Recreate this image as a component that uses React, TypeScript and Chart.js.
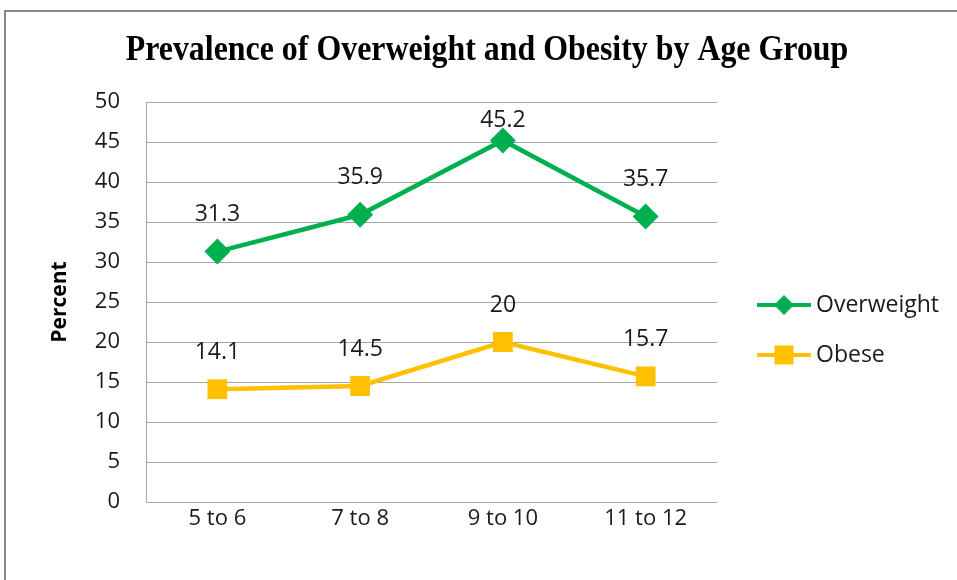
import React, { useEffect, useRef } from "react";
import { Chart, registerables } from "chart.js";

Chart.register(...registerables);

const categories = ["5 to 6", "7 to 8", "9 to 10", "11 to 12"];
const overweight = [31.3, 35.9, 45.2, 35.7];
const obese = [14.1, 14.5, 20, 15.7];
const seriesNames = ["Overweight", "Obese"];
const titleText = "Prevalence of Overweight and Obesity by Age Group";
const yTitle = "Percent";

const GREEN = "#00B050";
const GOLD = "#FFC000";
const TICK_FONT = "'Open Sans', sans-serif";

function drawMarker(ctx: CanvasRenderingContext2D, style: string, x: number, y: number, color: string) {
  ctx.save();
  ctx.fillStyle = color;
  ctx.beginPath();
  if (style === "rectRot") {
    const r = 10;
    ctx.moveTo(x, y - r);
    ctx.lineTo(x + r, y);
    ctx.lineTo(x, y + r);
    ctx.lineTo(x - r, y);
    ctx.closePath();
  } else {
    const h = 9.5;
    ctx.rect(x - h, y - h, 2 * h, 2 * h);
  }
  ctx.fill();
  ctx.restore();
}

const framePlugin = {
  id: "frame",
  beforeDraw(chart: any) {
    const ctx = chart.ctx;
    ctx.save();
    ctx.fillStyle = "#ffffff";
    ctx.fillRect(0, 0, chart.width, chart.height);
    ctx.strokeStyle = "#878787";
    ctx.lineWidth = 2;
    ctx.strokeRect(5, 11, chart.width + 20, chart.height + 20);
    ctx.restore();
  },
};

const titlePlugin = {
  id: "customTitle",
  afterDraw(chart: any) {
    const ctx = chart.ctx;
    ctx.save();
    ctx.font = "bold 36px 'Liberation Serif', serif";
    ctx.fillStyle = "#000";
    ctx.textAlign = "center";
    ctx.textBaseline = "middle";
    ctx.translate(487, 51);
    ctx.scale(0.886, 1);
    ctx.fillText(titleText, 0, 0);
    ctx.restore();

    // y axis title
    ctx.save();
    ctx.font = "bold 21px " + TICK_FONT;
    ctx.fillStyle = "#000";
    ctx.textAlign = "center";
    ctx.textBaseline = "middle";
    ctx.translate(60, (chart.chartArea.top + chart.chartArea.bottom) / 2);
    ctx.rotate(-Math.PI / 2);
    ctx.fillText(yTitle, 0, 0);
    ctx.restore();
  },
};

const labelPlugin = {
  id: "dataLabels",
  afterDatasetsDraw(chart: any) {
    const ctx = chart.ctx;
    const top = chart.chartArea.top;
    ctx.save();
    ctx.font = "23px " + TICK_FONT;
    ctx.fillStyle = "#1a1a1a";
    ctx.textAlign = "center";
    ctx.textBaseline = "middle";
    chart.data.datasets.forEach((ds: any, i: number) => {
      const meta = chart.getDatasetMeta(i);
      meta.data.forEach((pt: any, j: number) => {
        const y = Math.max(pt.y - 37, top + 18);
        ctx.fillText(String(ds.data[j]), pt.x, y);
      });
    });
    ctx.restore();
  },
};

const legendPlugin = {
  id: "customLegend",
  afterDraw(chart: any) {
    const ctx = chart.ctx;
    const area = chart.chartArea;
    const x0 = area.right + 40;
    const y0 = area.top + 203;
    chart.data.datasets.forEach((ds: any, i: number) => {
      const y = y0 + i * 50;
      ctx.save();
      ctx.strokeStyle = ds.borderColor;
      ctx.lineWidth = 4;
      ctx.beginPath();
      ctx.moveTo(x0, y);
      ctx.lineTo(x0 + 54, y);
      ctx.stroke();
      ctx.restore();
      drawMarker(ctx, ds.pointStyle, x0 + 27, y, ds.borderColor);
      ctx.save();
      ctx.font = "23px " + TICK_FONT;
      ctx.fillStyle = "#1a1a1a";
      ctx.textAlign = "left";
      ctx.textBaseline = "middle";
      ctx.fillText(ds.label, x0 + 59, y);
      ctx.restore();
    });
  },
};

export default function App() {
  const ref = useRef<HTMLCanvasElement | null>(null);

  useEffect(() => {
    document.body.style.margin = "0";
    const canvas = ref.current;
    if (!canvas) return;
    const chart = new Chart(canvas, {
      type: "line",
      data: {
        labels: categories,
        datasets: [
          {
            label: seriesNames[0],
            data: overweight,
            borderColor: GREEN,
            backgroundColor: GREEN,
            borderWidth: 4.5,
            pointStyle: "rectRot",
            pointRadius: 13,
            pointBorderWidth: 0,
            tension: 0,
          },
          {
            label: seriesNames[1],
            data: obese,
            borderColor: GOLD,
            backgroundColor: GOLD,
            borderWidth: 4.5,
            pointStyle: "rect",
            pointRadius: 14,
            pointBorderWidth: 0,
            tension: 0,
          },
        ],
      },
      options: {
        responsive: false,
        animation: false,
        devicePixelRatio: 1,
        layout: { padding: { top: 102, right: 240, bottom: 0, left: 0 } },
        plugins: {
          legend: { display: false },
          title: { display: false },
          tooltip: { enabled: false },
        },
        scales: {
          x: {
            type: "category",
            offset: true,
            grid: { display: false, drawTicks: false },
            border: { display: false },
            ticks: {
              color: "#1a1a1a",
              font: { family: TICK_FONT, size: 22 },
              padding: 4,
            },
            afterFit(scale: any) {
              scale.height = 78;
            },
          },
          y: {
            min: 0,
            max: 50,
            grid: { color: "#a6a6a6", lineWidth: 1, drawTicks: false },
            border: { display: true, color: "#a6a6a6", width: 1 },
            ticks: {
              stepSize: 5,
              color: "#1a1a1a",
              font: { family: TICK_FONT, size: 22 },
              padding: 26,
            },
            afterFit(scale: any) {
              scale.width = 146;
            },
          },
        },
      },
      plugins: [framePlugin, titlePlugin, labelPlugin, legendPlugin],
    } as any);
    return () => chart.destroy();
  }, []);

  return (
    <div style={{ position: "absolute", left: 0, top: 0, width: 957, height: 580 }}>
      <canvas ref={ref} width={957} height={580} style={{ width: 957, height: 580, display: "block" }} />
    </div>
  );
}
